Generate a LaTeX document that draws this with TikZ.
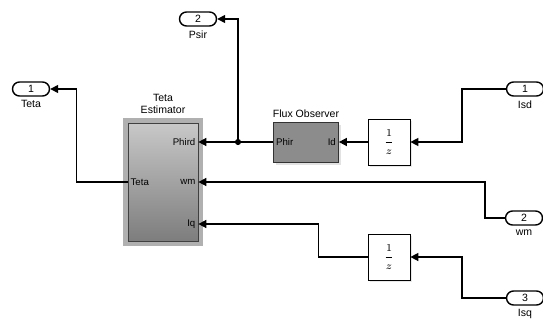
\documentclass[tikz,border=0pt]{standalone}
\usepackage{fontspec}
\setmainfont{Liberation Sans}
\usetikzlibrary{arrows.meta, positioning, shadows}
\definecolor{esttop}{RGB}{200,200,200}
\definecolor{estbottom}{RGB}{125,125,125}
\definecolor{estframe}{RGB}{176,176,176}
\definecolor{fluxfill}{RGB}{140,140,140}
\tikzset{
  outport/.style={
    minimum width=0.74cm,
    minimum height=0.28cm,
    inner sep=0pt,
    draw=black,
    thick,
    fill=white,
    rounded corners=0.14cm,
    font=\fontsize{6}{7}\selectfont
  },
  portname/.style={
    inner sep=1pt,
    font=\fontsize{6}{7}\selectfont
  },
  subsys/.style={
    minimum width=1.4cm,
    minimum height=2.36cm,
    draw=black!75,
    top color=esttop,
    bottom color=estbottom,
    preaction={draw=estframe, line width=0.2cm}
  },
  observer/.style={
    minimum width=1.3cm,
    minimum height=0.8cm,
    draw=black!80,
    fill=fluxfill,
    drop shadow={shadow xshift=1.5pt, shadow yshift=-1.5pt, fill=gray!45}
  },
  delaybox/.style={
    minimum width=0.84cm,
    minimum height=0.92cm,
    inner sep=0pt,
    draw=black,
    fill=white,
    drop shadow={shadow xshift=1.2pt, shadow yshift=-1.2pt, fill=gray!35},
    font=\fontsize{6.5}{7.5}\selectfont
  },
  pinlabel/.style={
    inner sep=1.5pt,
    font=\fontsize{5.5}{6.5}\selectfont
  },
  junct/.style={circle, fill=black, inner sep=0pt, minimum size=3.5pt},
  wire/.style={draw, thick, ->, >={Triangle[length=4.5pt, width=4.5pt]}}
}
\begin{document}
\begin{tikzpicture}[x=0.02cm, y=-0.02cm]
    \useasboundingbox (0,0) rectangle (543,324);
    % outports
    \node (teta) [outport] at (31,89) {1};
    \node [portname, below=1pt of teta] {Teta};
    \node (psir) [outport] at (198,19) {2};
    \node [portname, below=1pt of psir] {Psir};
    % inports
    \node (isd) [outport] at (525,89) {1};
    \node [portname, below=1pt of isd] {Isd};
    \node (wmin) [outport] at (524,218) {2};
    \node [portname, below=1pt of wmin] {wm};
    \node (isq) [outport] at (525,298) {3};
    \node [portname, below=1pt of isq] {Isq};
    % blocks
    \node (est) [subsys] at (163,182) {};
    \node [portname, align=center, above=0.13cm of est] {Teta \\ Estimator};
    \node (phird) [pinlabel, anchor=east] at (est.east |- 0,142) {Phird};
    \node (wm) [pinlabel, anchor=east] at (est.east |- 0,182) {wm};
    \node (iq) [pinlabel, anchor=east] at (est.east |- 0,224) {Iq};
    \node (tetaout) [pinlabel, anchor=west] at (est.west |- 0,182) {Teta};
    \node (flux) [observer] at (306,142) {};
    \node [portname, above=1pt of flux] {Flux Observer};
    \node [pinlabel, anchor=west] at (flux.west) {Phir};
    \node [pinlabel, anchor=east] at (flux.east) {Id};
    \node (delayd) [delaybox] at (389,142) {$\displaystyle\frac{1}{z}$};
    \node (delayq) [delaybox] at (389,257) {$\displaystyle\frac{1}{z}$};
    \node (dot) [junct] at (238,142) {};
    % wires
    \draw [wire] (flux.west) -- (est.east |- flux.west);
    \draw [wire] (dot) |- (psir);
    \draw [wire] (est.west) -- ++(-51,0) |- (teta);
    \draw [wire] (delayd) -- (flux);
    \draw [wire] (isd.west) -- ++(-44,0) |- (delayd);
    \draw [wire] (wmin.west) -- ++(-20,0) |- (est.east |- wm);
    \draw [wire] (delayq.west) -- ++(-49,0) |- (est.east |- iq);
    \draw [wire] (isq.west) -- ++(-44,0) |- (delayq);
\end{tikzpicture}
\end{document}
